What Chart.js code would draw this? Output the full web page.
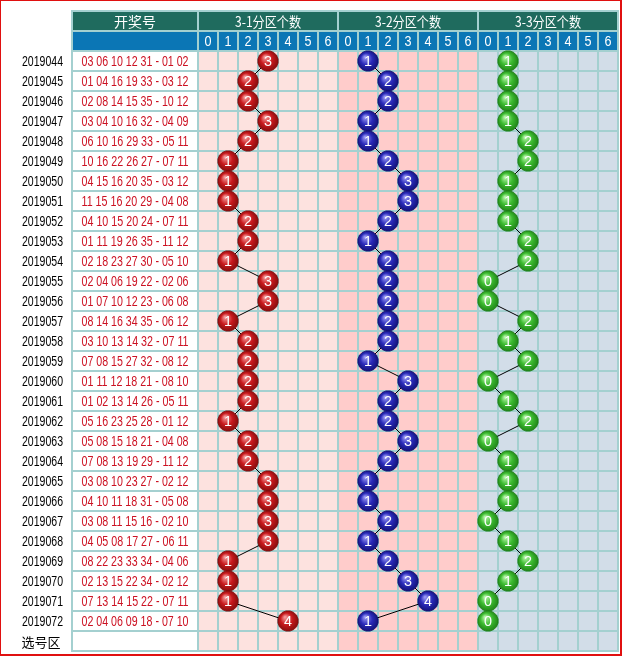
<!DOCTYPE html>
<html><head><meta charset="utf-8">
<script src="https://cdn.jsdelivr.net/npm/chart.js@4"></script>
<style>html,body{margin:0;padding:0;background:#fff}canvas{display:block}</style>
</head><body>
<canvas id="c" width="623" height="657"></canvas>
<script>
const issues = ['2019044','2019045','2019046','2019047','2019048','2019049','2019050','2019051','2019052','2019053',
  '2019054','2019055','2019056','2019057','2019058','2019059','2019060','2019061','2019062','2019063',
  '2019064','2019065','2019066','2019067','2019068','2019069','2019070','2019071','2019072'];
const draws = ['03 06 10 12 31 - 01 02','01 04 16 19 33 - 03 12','02 08 14 15 35 - 10 12','03 04 10 16 32 - 04 09',
  '06 10 16 29 33 - 05 11','10 16 22 26 27 - 07 11','04 15 16 20 35 - 03 12','11 15 16 20 29 - 04 08',
  '04 10 15 20 24 - 07 11','01 11 19 26 35 - 11 12','02 18 23 27 30 - 05 10','02 04 06 19 22 - 02 06',
  '01 07 10 12 23 - 06 08','08 14 16 34 35 - 06 12','03 10 13 14 32 - 07 11','07 08 15 27 32 - 08 12',
  '01 11 12 18 21 - 08 10','01 02 13 14 26 - 05 11','05 16 23 25 28 - 01 12','05 08 15 18 21 - 04 08',
  '07 08 13 19 29 - 11 12','03 08 10 23 27 - 02 12','04 10 11 18 31 - 05 08','03 08 11 15 16 - 02 10',
  '04 05 08 17 27 - 06 11','08 22 23 33 34 - 04 06','02 13 15 22 34 - 02 12','07 13 14 15 22 - 07 11',
  '02 04 06 09 18 - 07 10'];
const zone1 = [3,2,2,3,2,1,1,1,2,2,1,3,3,1,2,2,2,2,1,2,2,3,3,3,3,1,1,1,4];
const zone2 = [1,2,2,1,1,2,3,3,2,1,2,2,2,2,2,1,3,2,2,3,2,1,1,2,1,2,3,4,1];
const zone3 = [1,1,1,1,2,2,1,1,1,2,2,0,0,2,1,2,0,1,2,0,1,1,1,0,1,2,1,0,0];
const digitLabels = ['0','1','2','3','4','5','6'];
const groupTitles = ['3-1分区个数','3-2分区个数','3-3分区个数'];
const drawTitle = '开奖号';
const footerLabel = '选号区';

const GROUP_SIZE = digitLabels.length;
const groupFill = ['#fde2df', '#ffcccb', '#d2dde8'];
const gridColor = '#a4d0d0';
const CJK = '"Noto Sans CJK SC", sans-serif';
const LAT = '"Liberation Sans", Arial, sans-serif';

function ballImage(light, base, dark) {
  const s = 22, c = document.createElement('canvas');
  c.width = s; c.height = s;
  const g = c.getContext('2d');
  const cx = s / 2, cy = s / 2, r = 10.3;
  const grad = g.createRadialGradient(cx - 3, cy - 4, 0.5, cx, cy, r + 1);
  grad.addColorStop(0, light);
  grad.addColorStop(0.5, base);
  grad.addColorStop(1, dark);
  g.beginPath();
  for (let k = 0; k < 16; k++) {
    const a = k * Math.PI / 8 + Math.PI / 16;
    g.lineTo(cx + r * Math.cos(a), cy + r * Math.sin(a));
  }
  g.closePath();
  g.fillStyle = grad; g.fill();
  g.strokeStyle = dark; g.lineWidth = 0.8; g.stroke();
  return c;
}
const balls = [
  ballImage('#f59a9a', '#c8191d', '#7d0b0b'),
  ballImage('#9a9af5', '#2a2ab8', '#0e0e6e'),
  ballImage('#b6f5a8', '#3cbb30', '#1c7c14')
];
const zones = [zone1, zone2, zone3];

function mk(vals, g) {
  return {
    data: issues.map((iss, i) => ({ x: g * GROUP_SIZE + vals[i], y: iss })),
    borderColor: '#000', borderWidth: 1, tension: 0, fill: false, clip: false,
    pointStyle: balls[g], pointRadius: 11, pointHoverRadius: 11
  };
}

const tablePlugin = {
  id: 'table',
  beforeDatasetsDraw(chart) {
    const { ctx, chartArea: a, scales: { x, y } } = chart;
    const nRows = issues.length + 1;
    const band = (a.bottom - a.top) / nRows;
    const colEdge = k => x.getPixelForValue(k - 0.5);
    const rowTop = i => y.getPixelForValue(i) - band / 2;
    const tableLeft = 72;
    const tableTop = a.top - 2 * band;
    const drawRight = colEdge(0);
    const nCols = GROUP_SIZE * 3;
    ctx.save();
    ctx.fillStyle = gridColor;
    ctx.fillRect(tableLeft - 1, tableTop - 1, colEdge(nCols) - tableLeft + 2, a.bottom - tableTop + 2);
    const cell = (x0, y0, x1, y1, col) => { ctx.fillStyle = col; ctx.fillRect(x0 + 1, y0 + 1, x1 - x0 - 2, y1 - y0 - 2); };
    // header row 1
    const h1 = tableTop, h2 = tableTop + band;
    cell(tableLeft, h1, drawRight, h2, '#1f6b5e');
    for (let g = 0; g < 3; g++) cell(colEdge(g * GROUP_SIZE), h1, colEdge((g + 1) * GROUP_SIZE), h2, '#1f6b5e');
    // header row 2
    cell(tableLeft, h2, drawRight, a.top, '#0b76b5');
    for (let k = 0; k < nCols; k++) cell(colEdge(k), h2, colEdge(k + 1), a.top, '#0b76b5');
    // body rows
    for (let i = 0; i < nRows; i++) {
      const t = rowTop(i), b = t + band;
      cell(tableLeft, t, drawRight, b, '#ffffff');
      for (let k = 0; k < nCols; k++) cell(colEdge(k), t, colEdge(k + 1), b, groupFill[Math.floor(k / GROUP_SIZE)]);
    }
    // header text
    ctx.textBaseline = 'middle'; ctx.textAlign = 'center'; ctx.fillStyle = '#ffffff';
    ctx.font = '14px ' + CJK;
    ctx.fillText(drawTitle, (tableLeft + drawRight) / 2, h1 + band / 2 + 1);
    ctx.font = '14px ' + CJK;
    for (let g = 0; g < 3; g++) {
      const cx = (colEdge(g * GROUP_SIZE) + colEdge((g + 1) * GROUP_SIZE)) / 2;
      ctx.fillText(groupTitles[g], cx, h1 + band / 2 + 1, 66);
    }
    ctx.font = '14px ' + LAT;
    for (let k = 0; k < nCols; k++) {
      ctx.fillText(digitLabels[k % GROUP_SIZE], (colEdge(k) + colEdge(k + 1)) / 2, h2 + band / 2 + 1, 7);
    }
    // issues and draws
    for (let i = 0; i < issues.length; i++) {
      const cy = y.getPixelForValue(i) + 1;
      ctx.fillStyle = '#000'; ctx.textAlign = 'right'; ctx.font = '14px ' + LAT;
      ctx.fillText(issues[i], 63, cy, 41);
      ctx.fillStyle = '#cc1122'; ctx.textAlign = 'center';
      ctx.fillText(draws[i], (tableLeft + drawRight) / 2, cy, 107);
    }
    ctx.fillStyle = '#000'; ctx.textAlign = 'center'; ctx.font = '13px ' + CJK;
    ctx.fillText(footerLabel, 41, y.getPixelForValue(issues.length) + 1);
    ctx.restore();
  },
  afterDatasetsDraw(chart) {
    const ctx = chart.ctx;
    ctx.save();
    ctx.fillStyle = '#fff'; ctx.textAlign = 'center'; ctx.textBaseline = 'middle';
    ctx.font = '15px ' + LAT;
    chart.data.datasets.forEach((ds, d) => {
      const meta = chart.getDatasetMeta(d);
      meta.data.forEach((el, i) => {
        ctx.fillText(String(zones[d][i]), el.x, el.y + 1, 8);
      });
    });
    ctx.restore();
  },
  afterDraw(chart) {
    const ctx = chart.ctx;
    ctx.save();
    ctx.strokeStyle = '#e01010'; ctx.lineWidth = 2;
    ctx.strokeRect(0, 0, 621, 655);
    ctx.restore();
  }
};

new Chart(document.getElementById('c'), {
  type: 'line',
  data: { datasets: [mk(zone1, 0), mk(zone2, 1), mk(zone3, 2)] },
  options: {
    responsive: false, animation: false, events: [],
    layout: { autoPadding: false, padding: { left: 198, right: 5, top: 51, bottom: 6 } },
    scales: {
      x: { type: 'linear', min: -0.5, max: 20.5, display: false },
      y: { type: 'category', labels: [...issues, footerLabel], offset: true, display: false }
    },
    plugins: { legend: { display: false }, tooltip: { enabled: false } }
  },
  plugins: [tablePlugin]
});
</script>
</body></html>
